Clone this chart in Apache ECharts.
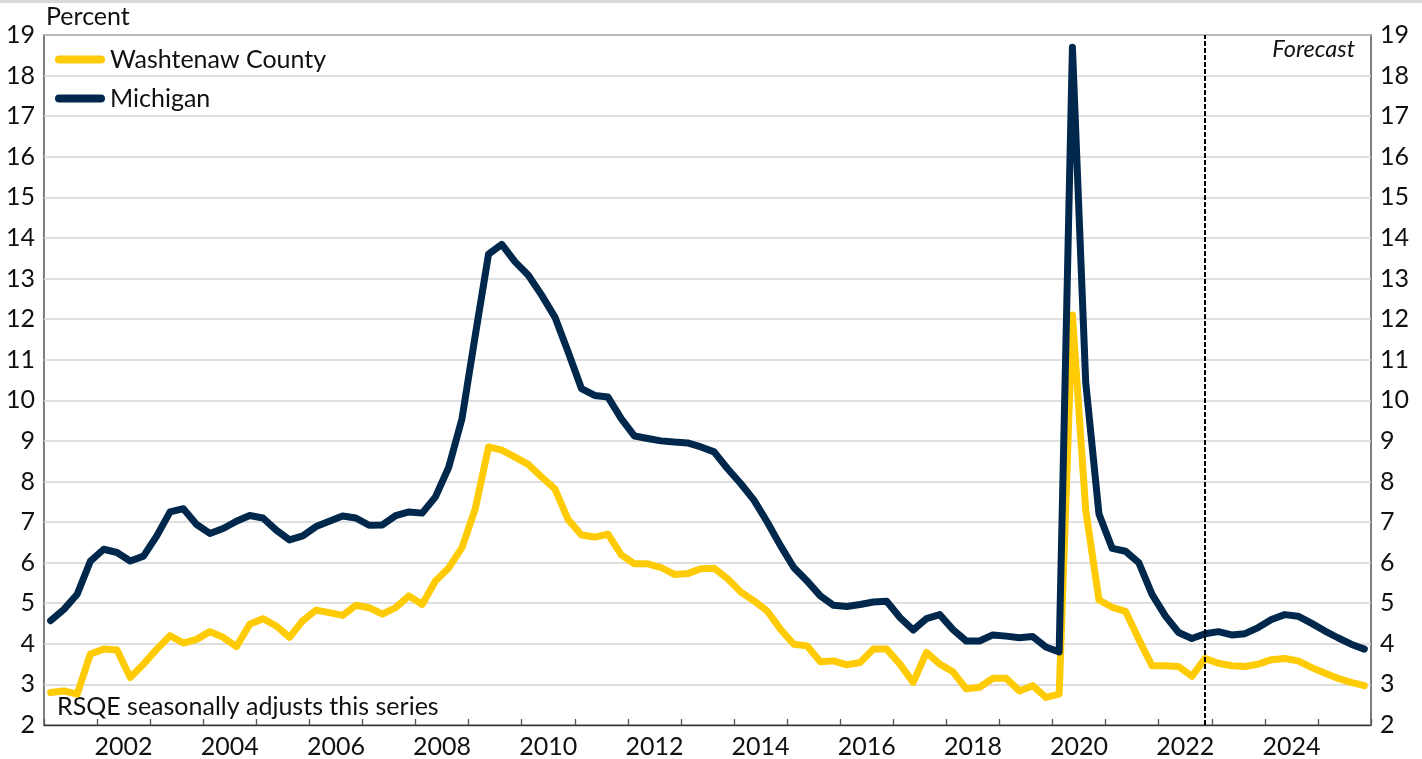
<!DOCTYPE html>
<html>
<head>
<meta charset="utf-8">
<style>
html,body{margin:0;padding:0;background:#fff;}
#chart{width:1422px;height:759px;}
</style>
<script src="https://cdn.jsdelivr.net/npm/echarts@6/dist/echarts.min.js"></script>
</head>
<body>
<div id="chart"></div>
<script>
// Quarterly categories 2001Q1 .. 2025Q4
const years = [];
for (let y = 2001; y <= 2025; y++) years.push(y);
const categories = [];
years.forEach(y => { for (let q = 1; q <= 4; q++) categories.push(y + 'Q' + q); });

const yearLabels = ['2002','2004','2006','2008','2010','2012','2014','2016','2018','2020','2022','2024'];
const forecastStart = '2022Q4';

const washtenaw = [
  2.80, 2.84, 2.76, 3.75, 3.87, 3.85, 3.17, 3.50, 3.87, 4.20,
  4.02, 4.11, 4.30, 4.16, 3.93, 4.48, 4.62, 4.44, 4.16, 4.57,
  4.83, 4.77, 4.70, 4.95, 4.89, 4.73, 4.89, 5.18, 4.97, 5.55,
  5.87, 6.37, 7.33, 8.85, 8.77, 8.60, 8.42, 8.11, 7.82, 7.06,
  6.68, 6.63, 6.70, 6.19, 5.97, 5.97, 5.88, 5.71, 5.73, 5.85,
  5.86, 5.61, 5.28, 5.06, 4.81, 4.36, 3.99, 3.95, 3.56, 3.58,
  3.48, 3.54, 3.87, 3.87, 3.50, 3.05, 3.79, 3.50, 3.31, 2.89,
  2.93, 3.15, 3.15, 2.84, 2.97, 2.68, 2.76, 12.10, 7.30, 5.08,
  4.90, 4.80, 4.11, 3.46, 3.46, 3.44, 3.20, 3.64, 3.52, 3.46,
  3.44, 3.50, 3.61, 3.64, 3.58, 3.42, 3.28, 3.15, 3.05, 2.97
];

const michigan = [
  4.57, 4.85, 5.22, 6.04, 6.33, 6.25, 6.04, 6.16, 6.66, 7.25,
  7.33, 6.94, 6.72, 6.84, 7.02, 7.16, 7.10, 6.80, 6.56, 6.66,
  6.89, 7.02, 7.15, 7.10, 6.92, 6.93, 7.16, 7.25, 7.22, 7.62,
  8.35, 9.55, 11.60, 13.60, 13.84, 13.41, 13.08, 12.59, 12.05, 11.19,
  10.29, 10.12, 10.08, 9.55, 9.12, 9.06, 9.00, 8.97, 8.95, 8.85,
  8.73, 8.32, 7.95, 7.54, 7.00, 6.42, 5.88, 5.55, 5.18, 4.95,
  4.92, 4.97, 5.03, 5.05, 4.65, 4.34, 4.62, 4.72, 4.35, 4.07,
  4.07, 4.22, 4.19, 4.15, 4.18, 3.92, 3.80, 18.70, 10.45, 7.20,
  6.35, 6.28, 6.00, 5.22, 4.69, 4.28, 4.13, 4.25, 4.30, 4.22,
  4.25, 4.40, 4.60, 4.72, 4.68, 4.51, 4.32, 4.15, 3.99, 3.87
];

const FONT = 'Lato';
const FS = 25;
const chart = echarts.init(document.getElementById('chart'), null, {renderer: 'canvas'});
const pillIcon = 'path://M4,0 H46 A4,4 0 0 1 46,8 H4 A4,4 0 0 1 4,0 Z';

chart.setOption({
  animation: false,
  backgroundColor: '#fff',
  textStyle: {fontFamily: FONT},
  grid: {
    left: 44, right: 51, top: 35, bottom: 33,
    show: true, borderColor: '#3a3a3a', borderWidth: 1.3, backgroundColor: 'transparent'
  },
  legend: {
    orient: 'vertical',
    left: 50, top: 42,
    itemWidth: 50, itemHeight: 8, itemGap: 14,
    icon: pillIcon,
    textStyle: {fontFamily: FONT, fontSize: FS, color: '#111', padding: [0, 0, 0, 0]},
    data: ['Washtenaw County', 'Michigan']
  },
  xAxis: [
    {
      type: 'category', data: categories, boundaryGap: true,
      axisLine: {lineStyle: {color: '#3a3a3a', width: 1.3}},
      axisTick: {show: true, interval: 3, inside: true, length: 6, lineStyle: {color: '#555', width: 1.3}},
      axisLabel: {show: false},
      splitLine: {show: false}
    },
    {
      type: 'value', min: 2001, max: 2026, interval: 0.5, position: 'bottom',
      axisLine: {show: false}, axisTick: {show: false}, splitLine: {show: false},
      axisLabel: {
        show: true, margin: 9, fontFamily: FONT, fontSize: FS, color: '#111',
        showMinLabel: true, showMaxLabel: true,
        formatter: v => {
          const s = String(Math.round(v - 0.5));
          return (Math.abs(v - Math.round(v - 0.5) - 0.5) < 1e-6 && yearLabels.indexOf(s) >= 0) ? s : '';
        }
      }
    }
  ],
  yAxis: [
    {
      type: 'value', min: 2, max: 19, interval: 1, position: 'left',
      axisLine: {show: false}, axisTick: {show: false},
      axisLabel: {margin: 9, fontFamily: FONT, fontSize: FS, color: '#111'},
      splitLine: {show: true, lineStyle: {color: '#d4d4d4', width: 1.5}}
    },
    {
      type: 'value', min: 2, max: 19, interval: 1, position: 'right',
      axisLine: {show: false}, axisTick: {show: false},
      axisLabel: {margin: 9, fontFamily: FONT, fontSize: FS, color: '#111'},
      splitLine: {show: false}
    }
  ],
  series: [
    {
      name: 'Washtenaw County', type: 'line', data: washtenaw,
      xAxisIndex: 0, yAxisIndex: 0,
      symbol: 'none', color: '#FFCB05',
      lineStyle: {width: 7, color: '#FFCB05', cap: 'round', join: 'round'},
      markLine: {
        silent: true, symbol: 'none', animation: false,
        label: {show: false},
        lineStyle: {color: '#000', width: 2, type: [5, 2]},
        data: [{xAxis: forecastStart}]
      },
      z: 2
    },
    {
      name: 'Michigan', type: 'line', data: michigan,
      xAxisIndex: 0, yAxisIndex: 0,
      symbol: 'none', color: '#00274C',
      lineStyle: {width: 7, color: '#00274C', cap: 'round', join: 'round'},
      z: 3
    }
  ],
  graphic: [
    {type: 'rect', left: 0, top: 0, shape: {width: 1422, height: 3}, style: {fill: '#d9d9d9'}, silent: true},
    {type: 'text', left: 46, top: 4, style: {text: 'Percent', font: FS + 'px ' + FONT, fill: '#111'}},
    {type: 'text', right: 67, top: 38, style: {text: 'Forecast', font: 'italic 23.5px ' + FONT, fill: '#111'}},
    {type: 'text', left: 57, top: 694, style: {text: 'RSQE seasonally adjusts this series', font: FS + 'px ' + FONT, fill: '#111'}}
  ]
});
</script>
</body>
</html>
